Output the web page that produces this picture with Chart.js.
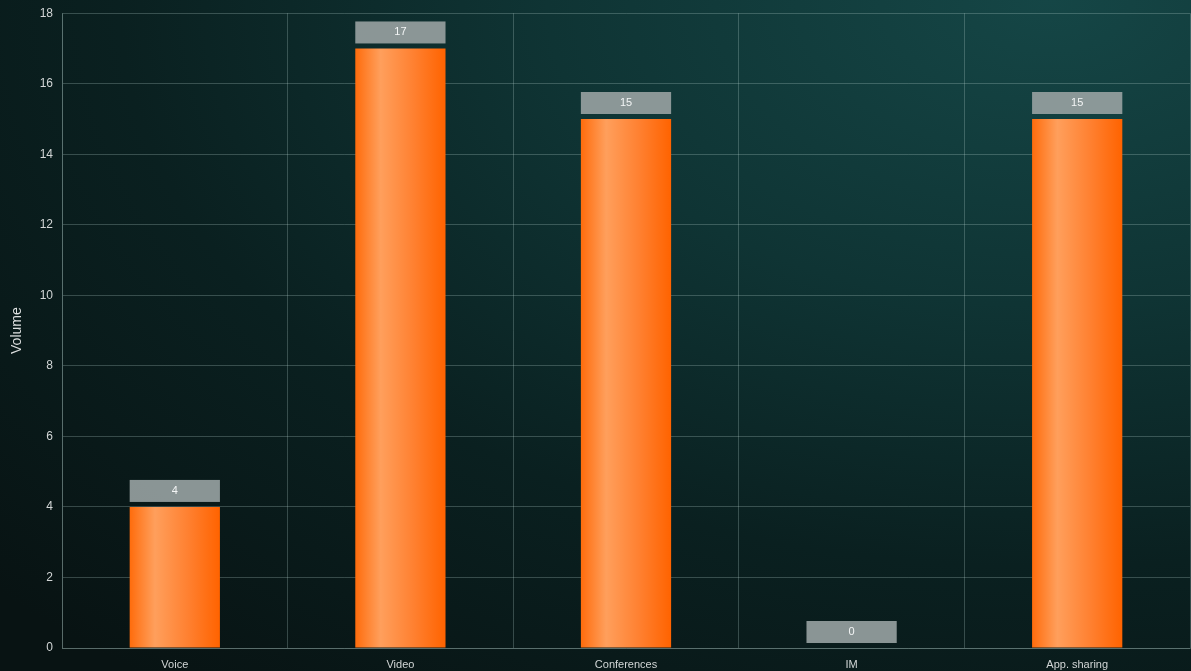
<!DOCTYPE html>
<html>
<head>
<meta charset="utf-8">
<script src="https://cdn.jsdelivr.net/npm/chart.js@4.4.1/dist/chart.umd.min.js"></script>
<style>
  html, body { margin: 0; padding: 0; overflow: hidden; }
  body {
    width: 1191px; height: 671px;
    background: radial-gradient(ellipse 120% 130% at 88% 0%, #154646 0%, #0f3434 35%, #0a2020 65%, #081313 100%);
  }
  #wrap { position: relative; top: -3px; width: 1191px; height: 683px; }
</style>
</head>
<body>
<div id="wrap"><canvas id="c"></canvas></div>
<script>
const categories = ['Voice', 'Video', 'Conferences', 'IM', 'App. sharing'];
const volumes = [4, 17, 15, 0, 15];
const yTicks = [0, 2, 4, 6, 8, 10, 12, 14, 16, 18];

const gridColor = 'rgba(190, 215, 212, 0.26)';
const tickColor = '#d2d6d6';
const fontFamily = '"Liberation Sans", Arial, sans-serif';

function barFill(ctx) {
  const chart = ctx.chart;
  const xs = chart.scales.x;
  if (!xs || !chart.chartArea) return '#ff7a1a';
  const center = xs.getPixelForValue(ctx.dataIndex);
  const half = (xs.width / categories.length) * 0.4 / 2;
  const g = chart.ctx.createLinearGradient(center - half, 0, center + half, 0);
  g.addColorStop(0, '#ff6c0c');
  g.addColorStop(0.28, '#ff9f5c');
  g.addColorStop(0.65, '#ff8030');
  g.addColorStop(1, '#ff6300');
  return g;
}

// Grey value boxes sitting above each bar
const valueBoxes = {
  id: 'valueBoxes',
  afterDatasetsDraw(chart) {
    const c = chart.ctx;
    const meta = chart.getDatasetMeta(0);
    meta.data.forEach((bar, i) => {
      const w = bar.width;
      const h = 22;
      const bottom = bar.y - 5;
      c.save();
      c.fillStyle = 'rgba(150, 160, 160, 0.92)';
      c.fillRect(bar.x - w / 2, bottom - h, w, h);
      c.fillStyle = '#f4f6f6';
      c.font = '11px ' + fontFamily;
      c.textAlign = 'center';
      c.textBaseline = 'middle';
      c.fillText(String(volumes[i]), bar.x, bottom - h / 2);
      c.restore();
    });
  }
};

new Chart(document.getElementById('c'), {
  type: 'bar',
  data: {
    labels: categories,
    datasets: [{
      label: 'Volume',
      data: volumes,
      backgroundColor: barFill,
      borderWidth: 0,
      categoryPercentage: 1,
      barPercentage: 0.4
    }]
  },
  options: {
    responsive: true,
    maintainAspectRatio: false,
    animation: false,
    layout: { padding: { top: 10, right: 1, left: 9, bottom: 0 } },
    plugins: { legend: { display: false }, tooltip: { enabled: false } },
    scales: {
      x: {
        grid: { color: gridColor, drawTicks: false, offset: true },
        border: { color: gridColor },
        ticks: { color: tickColor, font: { family: fontFamily, size: 11 }, padding: 10 },
        afterFit(s) { s.height = 32; }
      },
      y: {
        min: 0,
        max: 18,
        afterBuildTicks(s) { s.ticks = yTicks.map(v => ({ value: v })); },
        grid: { color: gridColor, drawTicks: false },
        border: { color: gridColor },
        ticks: { color: tickColor, font: { family: fontFamily, size: 12 }, padding: 9 },
        title: { display: true, text: 'Volume', color: '#dcdfdf', font: { family: fontFamily, size: 14 }, padding: 0 },
        afterFit(s) { s.width = 53; }
      }
    }
  },
  plugins: [valueBoxes]
});
</script>
</body>
</html>
